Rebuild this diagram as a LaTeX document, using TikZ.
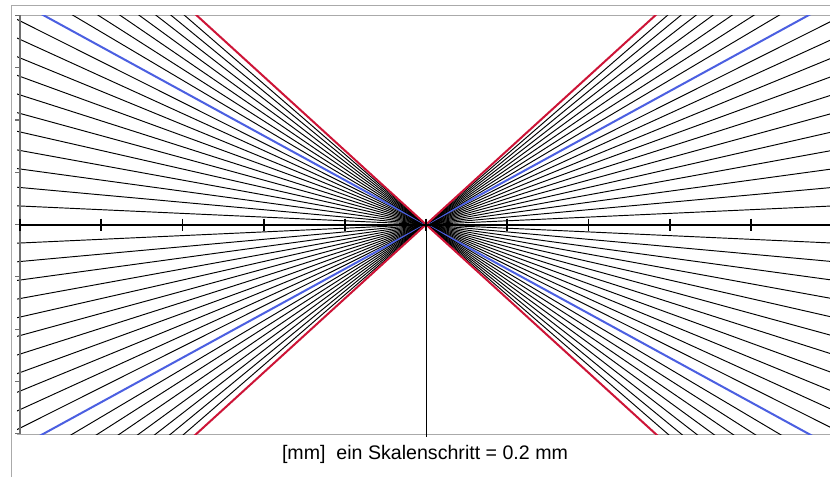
\documentclass[tikz,border=0pt]{standalone}
\usepackage{fontspec}
\setmainfont{Liberation Sans}
\usetikzlibrary{calc}
\definecolor{rayblue}{RGB}{75,95,225}
\definecolor{rayred}{RGB}{205,20,55}
\definecolor{framegray}{RGB}{170,170,170}
\definecolor{axisgray}{RGB}{110,110,110}
\tikzset{
  ray/.style={black, line width=0.95pt},
  blueray/.style={rayblue, line width=2pt},
  redray/.style={rayred, line width=2pt},
  xaxis/.style={black, line width=2pt},
  tickmark/.style={black, line width=1.8pt},
  ytick/.style={axisgray, line width=1.2pt},
  framing/.style={framegray, line width=1pt},
  caption/.style={font=\fontsize{19.6}{22}\selectfont, anchor=base, inner sep=0pt}
}
\begin{document}
\begin{tikzpicture}[x=1pt,y=-1pt]
\useasboundingbox (0,0) rectangle (830,477);
\fill[white] (0,0) rectangle (830,477);
\coordinate (c) at (426,224.5);
% outer frame
\draw[framing] (11,477) -- (11,5) -- (830,5);
% plot border top/bottom
\draw[framing] (17,15) -- (830,15);
\draw[framing] (17,434) -- (830,434);
% rays
\begin{scope}
\clip (17,15) rectangle (830,434);
\foreach \k in {1,...,20}{
  \pgfmathsetmacro{\dy}{500*0.0456*\k}
  \ifnum\k=12
    \def\st{blueray}
  \else\ifnum\k=20
    \def\st{redray}
  \else
    \def\st{ray}
  \fi\fi
  \draw[\st] ($(c)+(-500,-\dy)$) -- ($(c)+(500,\dy)$);
  \draw[\st] ($(c)+(-500,\dy)$) -- ($(c)+(500,-\dy)$);
}
\end{scope}
% left axis
\draw[axisgray, line width=1.5pt] (20,15) -- (20,434);
\foreach \j in {-4,...,4}{
  \draw[ytick] (15,224.5+52.3*\j) -- (20,224.5+52.3*\j);
}
% vertical line below centre
\draw[black, line width=1pt] (c) -- (426,437);
% x axis
\draw[xaxis] (20,224.5) -- (830,224.5);
\foreach \i in {0,...,10}{
  \draw[tickmark] (20+81.2*\i,218.5) -- (20+81.2*\i,230.5);
}
% caption
\node[caption] (cap) at (425,459) {[mm]\ \ ein Skalenschritt = 0.2 mm};
\end{tikzpicture}
\end{document}
